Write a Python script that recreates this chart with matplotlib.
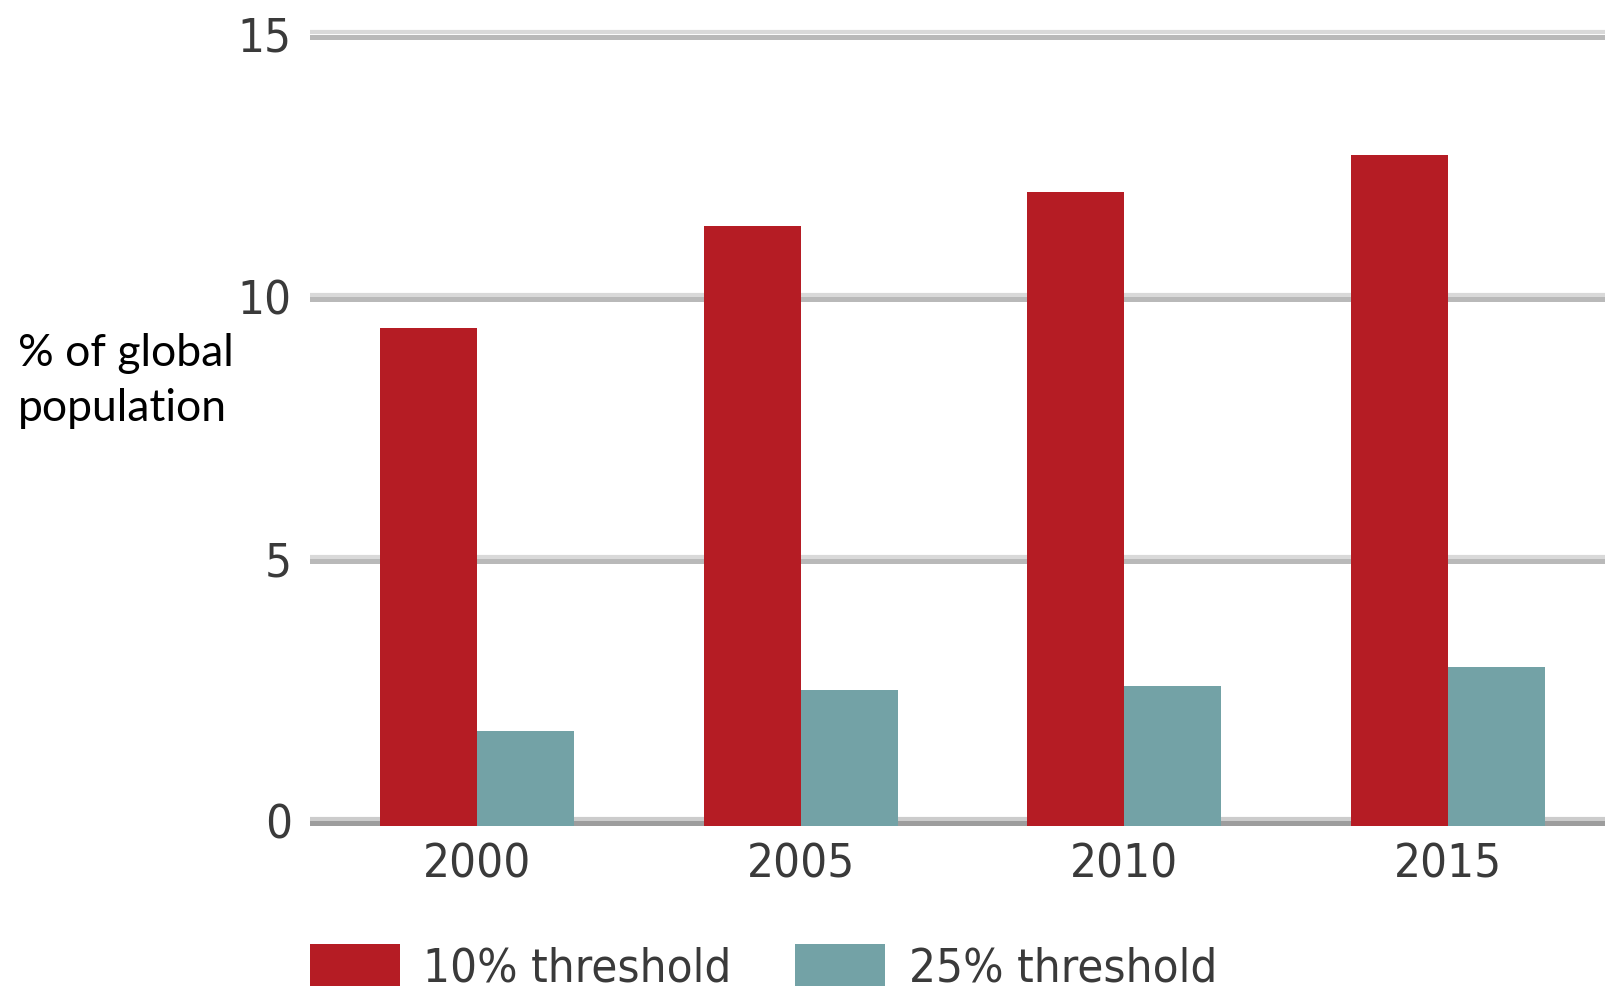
"""Share of global population above water-stress thresholds, grouped bars."""

import numpy as np
import matplotlib.pyplot as plt
from matplotlib.font_manager import FontProperties

years = ["2000", "2005", "2010", "2015"]
share_10pct = [9.4, 11.35, 12.0, 12.7]
share_25pct = [1.72, 2.5, 2.58, 2.93]
series_labels = ["10% threshold", "25% threshold"]
y_ticks = [0, 5, 10, 15]

RED = "#b51c24"
TEAL = "#73a2a6"
TICK_FP = FontProperties(family="DejaVu Sans", stretch="condensed", size=34)

fig = plt.figure(figsize=(16.06, 9.91), dpi=100)
ax = fig.add_axes([310 / 1606, 0.1557, 1 - 310 / 1606, 0.8307])

x = np.arange(len(years))
w = 0.30
base = -0.09  # bars run down over the zero line

ax.bar(x - w / 2, np.array(share_10pct) - base, w, bottom=base,
       color=RED, label=series_labels[0], zorder=3)
ax.bar(x + w / 2, np.array(share_25pct) - base, w, bottom=base,
       color=TEAL, label=series_labels[1], zorder=3)

# two-tone grid lines: light band above, darker band below
px = 15 / 786.5
for v in y_ticks:
    dark = "#9d9d9d" if v == 0 else "#b9b9b9"
    light = "#cccccc" if v == 0 else "#d9d9d9"
    ax.axhline(v + 2.0 * px, color=light, lw=3.0, zorder=1)
    ax.axhline(v - 2.5 * px, color=dark, lw=3.6, zorder=1)

ax.set_xlim(-0.516, 3.488)
ax.set_ylim(-0.3, 15.4)
ax.set_xticks(x)
ax.set_xticklabels(years)
ax.set_yticks(y_ticks)
ax.set_yticklabels([str(t) for t in y_ticks])
for lab in ax.get_xticklabels() + ax.get_yticklabels():
    lab.set_fontproperties(TICK_FP)
    lab.set_color("#3a3a3a")
ax.tick_params(axis="both", length=0)
ax.tick_params(axis="y", pad=13)
ax.tick_params(axis="x", pad=4)
for s in ax.spines.values():
    s.set_visible(False)

fig.text(18 / 1606, 1 - 381 / 991, "% of global\npopulation",
         family=["Lato", "DejaVu Sans"], fontsize=32, color="black",
         ha="left", va="center", linespacing=1.4)

leg = fig.legend(loc="upper left", bbox_to_anchor=(310 / 1606, 1 - 944 / 991),
                 ncol=2, frameon=False, handlelength=1.9, handleheight=1.0,
                 handletextpad=0.5, columnspacing=1.35, borderaxespad=0,
                 borderpad=0, prop=TICK_FP)
for t in leg.get_texts():
    t.set_color("#3a3a3a")

fig.savefig("out.png", dpi=100)
